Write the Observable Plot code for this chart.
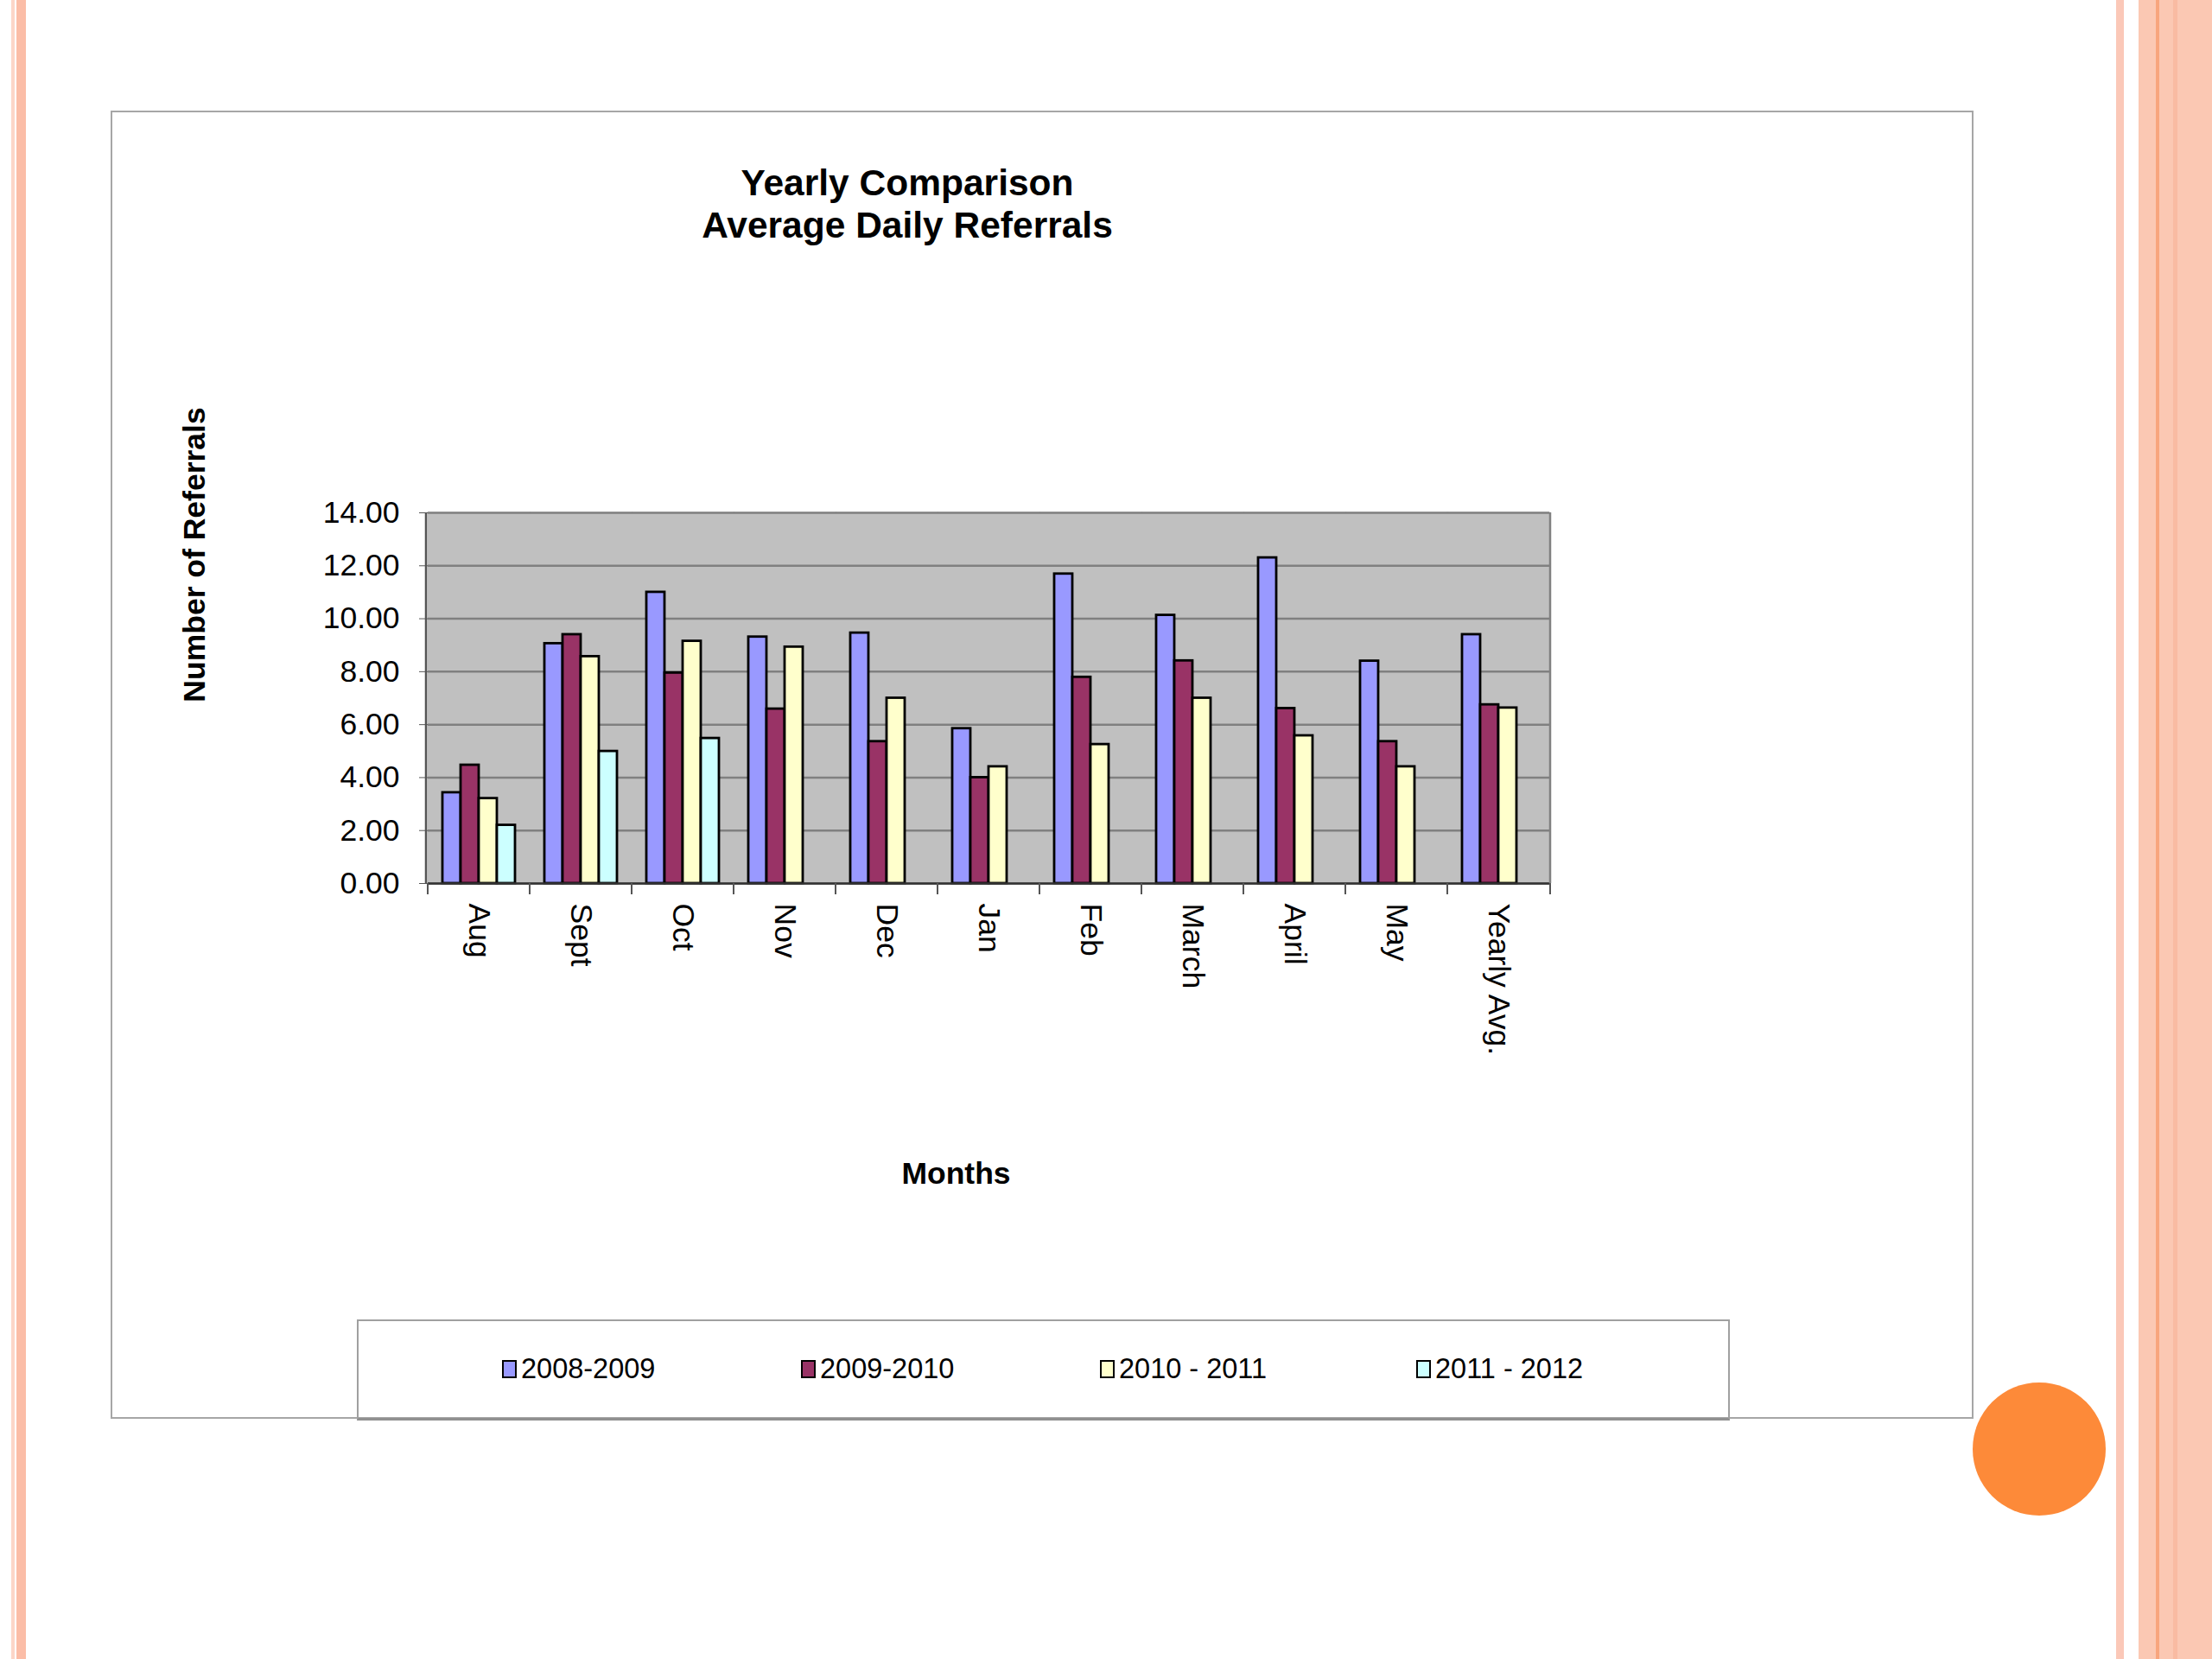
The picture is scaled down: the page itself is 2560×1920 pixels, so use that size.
<!DOCTYPE html>
<html>
<head>
<meta charset="utf-8">
<script src="https://cdn.jsdelivr.net/npm/d3@7"></script>
<script src="https://cdn.jsdelivr.net/npm/@observablehq/plot@0.6"></script>
<style>
html, body { margin: 0; padding: 0; background: #ffffff; }
#page { position: relative; width: 2560px; height: 1920px; overflow: hidden; background: #ffffff;
        font-family: "Liberation Sans", Arial, Helvetica, sans-serif; color: #000; }
.abs { position: absolute; }
#title { left: 550px; width: 1000px; top: 187px; text-align: center; font-weight: bold; font-size: 42.5px; line-height: 49px; }
.leg-item { position: absolute; top: 1564px; height: 40px; display: flex; align-items: center; font-size: 32.5px; }
.leg-sw { width: 13px; height: 17px; border: 2px solid #000; margin-right: 5px; }
svg.plot-main { position: absolute; left: 0; top: 0; }
</style>
</head>
<body>
<div id="page">
  <!-- left slide decoration -->
  <div class="abs" style="left:13px;top:0;width:4px;height:1920px;background:#fcd6c8;"></div>
  <div class="abs" style="left:19px;top:0;width:11px;height:1920px;background:#fbbda7;"></div>
  <!-- right slide decoration -->
  <div class="abs" style="left:2449px;top:0;width:9px;height:1920px;background:#fbc8b8;"></div>
  <div class="abs" style="left:2475px;top:0;width:85px;height:1920px;background:#fbc8b3;"></div>
  <div class="abs" style="left:2495px;top:0;width:4px;height:1920px;background:#f8a57d;"></div>
  <div class="abs" style="left:2515px;top:0;width:5px;height:1920px;background:#f9bba2;"></div>
  <!-- chart frame -->
  <div class="abs" style="left:128px;top:128px;width:2152px;height:1510px;border:2px solid #a6a6a6;"></div>
  <!-- orange circle -->
  <div class="abs" style="left:2283px;top:1600px;width:154px;height:154px;border-radius:50%;background:#fd8a39;"></div>
  <!-- title -->
  <div id="title" class="abs">Yearly Comparison<br>Average Daily Referrals</div>
  <!-- legend box -->
  <div class="abs" style="left:413px;top:1527px;width:1585px;height:112px;border:2px solid #a0a0a0;border-bottom:3px solid #909090;"></div>
  <div id="legend"></div>
</div>
<script>
// ---- data ----
const months = ["Aug", "Sept", "Oct", "Nov", "Dec", "Jan", "Feb", "March", "April", "May", "Yearly Avg."];
const seriesNames = ["2008-2009", "2009-2010", "2010 - 2011", "2011 - 2012"];
const s2008_2009 = [3.43, 9.06, 11.00, 9.31, 9.46, 5.85, 11.69, 10.13, 12.30, 8.40, 9.40];
const s2009_2010 = [4.47, 9.40, 7.95, 6.59, 5.36, 4.00, 7.79, 8.41, 6.61, 5.36, 6.75];
const s2010_2011 = [3.21, 8.57, 9.15, 8.93, 7.00, 4.41, 5.25, 7.00, 5.58, 4.41, 6.63];
const s2011_2012 = [2.20, 4.99, 5.48, null, null, null, null, null, null, null, null];
const yTicks = [0, 2, 4, 6, 8, 10, 12, 14];
const seriesColors = ["#9999ff", "#993366", "#ffffcc", "#ccffff"];

const seriesValues = [s2008_2009, s2009_2010, s2010_2011, s2011_2012];
const data = [];
months.forEach((m, i) => {
  seriesValues.forEach((vals, j) => {
    if (vals[i] != null) data.push({month: m, series: seriesNames[j], value: vals[i]});
  });
});

const fmt = d3.format(".2f");

const chart = Plot.plot({
  width: 2560,
  height: 1920,
  marginLeft: 493,
  marginRight: 766,
  marginTop: 593,
  marginBottom: 898,
  className: "plot-main",
  style: {background: "transparent", fontFamily: "'Liberation Sans', Arial, Helvetica, sans-serif", fontSize: "35.5px", color: "#000", overflow: "visible"},
  fx: {domain: months, padding: 0},
  x: {domain: seriesNames, paddingInner: 0, paddingOuter: 0.72, axis: null},
  y: {domain: [0, 14]},
  color: {domain: seriesNames, range: seriesColors},
  marks: [
    Plot.frame({fill: "#c0c0c0", stroke: "#c0c0c0", strokeWidth: 2}),
    Plot.gridY(yTicks, {stroke: "#808080", strokeOpacity: 1, strokeWidth: 2.5}),
    Plot.barY(data, {fx: "month", x: "series", y: "value", fill: "series", stroke: "#000", strokeWidth: 2.8}),
    Plot.ruleY([0], {stroke: "#333", strokeWidth: 2.5}),
    Plot.axisY(yTicks, {tickFormat: fmt, tickSize: 10, tickPadding: 23, stroke: "#555", fill: "#000",
      label: "Number of Referrals", labelAnchor: "center", labelArrow: "none", labelOffset: 284}),
    Plot.axisFx({anchor: "bottom", tickRotate: 90, tickSize: 0, tickPadding: 23, fill: "#000",
      label: "Months", labelAnchor: "center", labelArrow: "none", labelOffset: 347})
  ]
});

document.getElementById("page").appendChild(chart);

// bold axis titles, nudged to where the reference places them
function nudge(sel, dx, dy) {
  sel.each(function () {
    const prev = this.getAttribute("transform") || "";
    this.setAttribute("transform", `translate(${dx},${dy}) ${prev}`);
  });
}
const yLab = d3.select(chart).selectAll('g[aria-label="y-axis label"]');
yLab.selectAll("text").attr("font-weight", "bold");
nudge(yLab, 0, -166);
const xLab = d3.select(chart).selectAll('g[aria-label="fx-axis label"]');
xLab.selectAll("text").attr("font-weight", "bold");
nudge(xLab, -38, 0);

// plot-area borders and category-boundary ticks, placed with the chart's own scales
const fxS = chart.scale("fx");
const yS = chart.scale("y");
const left = fxS.range[0], right = fxS.range[1];
const yTop = yS.apply(14), yBot = yS.apply(0);
const deco = d3.select(chart).append("g");
deco.append("line").attr("x1", left).attr("x2", left).attr("y1", yTop).attr("y2", yBot)
  .attr("stroke", "#555").attr("stroke-width", 2.5);
deco.append("line").attr("x1", right).attr("x2", right).attr("y1", yTop).attr("y2", yBot)
  .attr("stroke", "#808080").attr("stroke-width", 2.5);
const bounds = months.map(m => fxS.apply(m)).concat([right]);
deco.selectAll("line.bt").data(bounds).join("line").attr("class", "bt")
  .attr("x1", d => d).attr("x2", d => d).attr("y1", yBot).attr("y2", yBot + 13)
  .attr("stroke", "#555").attr("stroke-width", 2);

// legend
const legendX = [581, 927, 1273, 1639];
const legend = document.getElementById("legend");
seriesNames.forEach((s, i) => {
  const item = document.createElement("div");
  item.className = "leg-item";
  item.style.left = legendX[i] + "px";
  const sw = document.createElement("div");
  sw.className = "leg-sw";
  sw.style.background = seriesColors[i];
  const t = document.createElement("span");
  t.textContent = s;
  item.appendChild(sw);
  item.appendChild(t);
  legend.appendChild(item);
});
</script>
</body>
</html>
